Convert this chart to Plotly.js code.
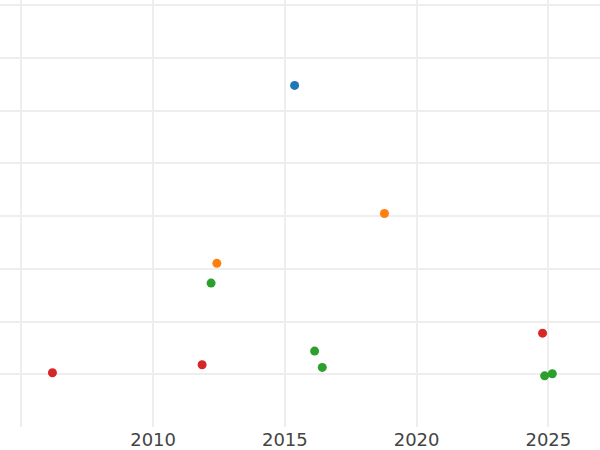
<!DOCTYPE html>
<html>
<head>
<meta charset="utf-8">
<script src="https://cdn.plot.ly/plotly-3.0.1.min.js"></script>
<style>html,body{margin:0;padding:0;background:#fff;}#chart{width:600px;height:450px;}</style>
</head>
<body>
<div id="chart"></div>
<script>
// Series (x = year, y = value in arbitrary units)
const blueX = [2015.37];
const blueY = [64.8];
const orangeX = [2018.78, 2012.42];
const orangeY = [40.5, 31.05];
const greenX = [2012.20, 2016.13, 2016.42, 2024.86, 2025.15];
const greenY = [27.3, 14.4, 11.3, 9.7, 10.1];
const redX = [2006.18, 2011.86, 2024.78];
const redY = [10.3, 11.8, 17.8];
const xTickVals = [2005, 2010, 2015, 2020, 2025];
const xTickText = ['2005', '2010', '2015', '2020', '2025'];

const series = [
  {x: blueX, y: blueY, color: '#1f77b4'},
  {x: orangeX, y: orangeY, color: '#ff7f0e'},
  {x: greenX, y: greenY, color: '#2ca02c'},
  {x: redX, y: redY, color: '#d62728'}
];

const data = series.map(s => ({
  x: s.x, y: s.y, type: 'scatter', mode: 'markers',
  marker: {color: s.color, size: 9},
  showlegend: false
}));

const layout = {
  width: 600, height: 450,
  margin: {l: 0, r: 0, t: 0, b: 23},
  paper_bgcolor: '#fff', plot_bgcolor: '#fff',
  font: {family: 'DejaVu Sans', size: 18, color: '#444'},
  showlegend: false,
  xaxis: {
    range: [2004.19, 2026.96],
    tickvals: xTickVals, ticktext: xTickText,
    gridcolor: '#eee', gridwidth: 2, zeroline: false, showline: false,
    ticks: ''
  },
  yaxis: {
    range: [0, 81.0],
    tick0: 0, dtick: 10,
    gridcolor: '#eee', gridwidth: 2, zeroline: false, showline: false,
    showticklabels: false, ticks: ''
  }
};

Plotly.newPlot('chart', data, layout, {staticPlot: true, displayModeBar: false});
</script>
</body>
</html>
